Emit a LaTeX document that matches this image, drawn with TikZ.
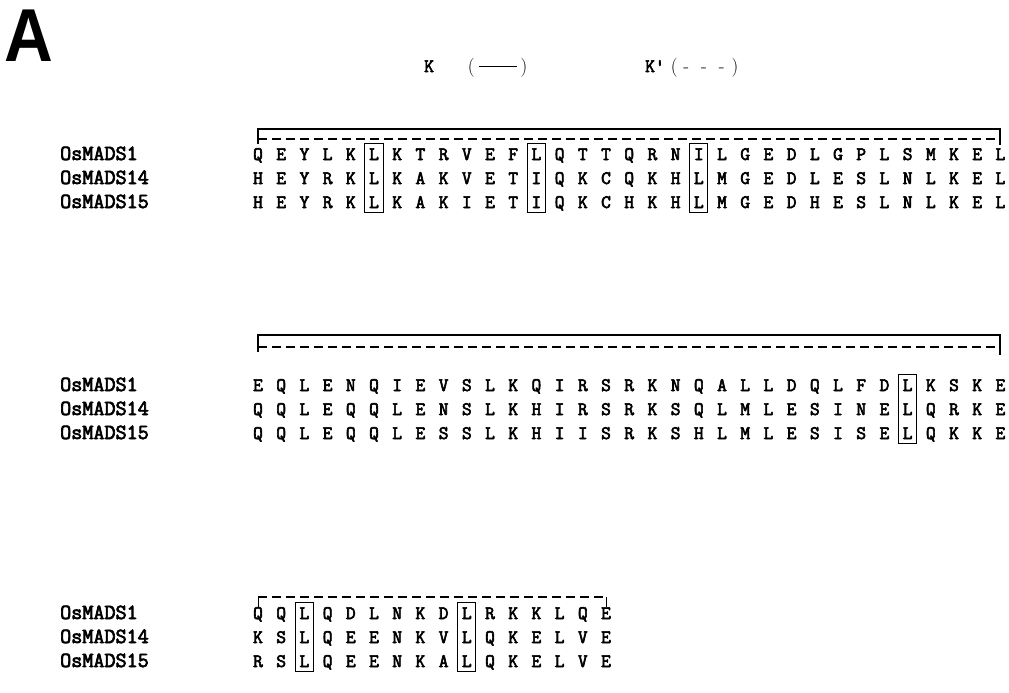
\documentclass[tikz,border=0pt]{standalone}
\usepackage{fontspec}
\setmonofont{Latin Modern Mono}[AutoFakeBold=3.2]
\newfontfamily\alsans{Liberation Sans}
\usepackage{tikz}
\usetikzlibrary{fit}
\tikzset{
alpanel/.style={font=\alsans\bfseries\fontsize{75}{75}\selectfont,inner sep=0pt,anchor=base west,xscale=0.9},
alname/.style={font=\ttfamily\bfseries\fontsize{21.5}{21.5}\selectfont,inner sep=0pt,anchor=base west},
alres/.style={font=\ttfamily\bfseries\fontsize{19}{19}\selectfont,inner sep=0pt,text height=11.5pt,text depth=0pt,anchor=base},
alkey/.style={font=\fontsize{19}{19}\selectfont,inner sep=0pt,anchor=base west},
alhl/.style={draw,line width=0.9pt,inner xsep=4pt,inner ysep=4.5pt},
alsolid/.style={line width=1.1pt},
aldash/.style={line width=1.1pt,dash pattern=on 9pt off 5pt},
altick/.style={line width=0.8pt}
}
\begin{document}
\begin{tikzpicture}[x=1pt,y=-1pt]
\useasboundingbox (0,0) rectangle (1009,693);
\node[alpanel] (panel) at (4,62) {A};
\node[alkey] (kkey) at (424,72) {\texttt{\bfseries K}\hspace{34pt}(\hspace{4pt}\rule[0.3em]{38pt}{0.7pt}\hspace{4pt})};
\node[alkey] (kpkey) at (645,72) {\texttt{\bfseries K'}\hspace{6pt}(\hspace{6pt}-\hspace{12pt}-\hspace{12pt}-\hspace{7pt})};
% sequence names
\foreach \nm [count=\r] in {OsMADS1,OsMADS14,OsMADS15}{
  \node[alname] (na\r) at (60,{136+24*\r}) {\nm};
  \node[alname] (nb\r) at (60,{367+24*\r}) {\nm};
  \node[alname] (nc\r) at (60,{595+24*\r}) {\nm};
}
% first block
\foreach \seq [count=\r] in {{Q,E,Y,L,K,L,K,T,R,V,E,F,L,Q,T,T,Q,R,N,I,L,G,E,D,L,G,P,L,S,M,K,E,L},
  {H,E,Y,R,K,L,K,A,K,V,E,T,I,Q,K,C,Q,K,H,L,M,G,E,D,L,E,S,L,N,L,K,E,L},
  {H,E,Y,R,K,L,K,A,K,I,E,T,I,Q,K,C,H,K,H,L,M,G,E,D,H,E,S,L,N,L,K,E,L}}{
  \foreach \res [count=\c] in \seq
    \node[alres] (a\r-\c) at ({258+23.2*(\c-1)},{136+24*\r}) {\res};
}
% second block
\foreach \seq [count=\r] in {{E,Q,L,E,N,Q,I,E,V,S,L,K,Q,I,R,S,R,K,N,Q,A,L,L,D,Q,L,F,D,L,K,S,K,E},
  {Q,Q,L,E,Q,Q,L,E,N,S,L,K,H,I,R,S,R,K,S,Q,L,M,L,E,S,I,N,E,L,Q,R,K,E},
  {Q,Q,L,E,Q,Q,L,E,S,S,L,K,H,I,I,S,R,K,S,H,L,M,L,E,S,I,S,E,L,Q,K,K,E}}{
  \foreach \res [count=\c] in \seq
    \node[alres] (b\r-\c) at ({258+23.2*(\c-1)},{367+24*\r}) {\res};
}
% third block
\foreach \seq [count=\r] in {{Q,Q,L,Q,D,L,N,K,D,L,R,K,K,L,Q,E},
  {K,S,L,Q,E,E,N,K,V,L,Q,K,E,L,V,E},
  {R,S,L,Q,E,E,N,K,A,L,Q,K,E,L,V,E}}{
  \foreach \res [count=\c] in \seq
    \node[alres] (c\r-\c) at ({258+23.2*(\c-1)},{595+24*\r}) {\res};
}
% boxed positions
\foreach \c in {6,13,20}
  \node[alhl,fit=(a1-\c)(a3-\c)] (ha\c) {};
\node[alhl,fit=(b1-29)(b3-29)] (hb29) {};
\foreach \c in {3,10}
  \node[alhl,fit=(c1-\c)(c3-\c)] (hc\c) {};
% K and K' brackets
\draw[alsolid] (258,144) -- (258,129) -- (1000,129) -- (1000,145);
\draw[aldash] (258,139) -- (1000,139);
\draw[alsolid] (258,352) -- (258,335) -- (1000,335) -- (1000,355);
\draw[aldash] (258,347) -- (1000,347);
\draw[aldash] (258,597) -- (606,597);
\draw[altick] (258,597) -- (258,607);
\draw[altick] (606,597) -- (606,607);
\end{tikzpicture}
\end{document}
